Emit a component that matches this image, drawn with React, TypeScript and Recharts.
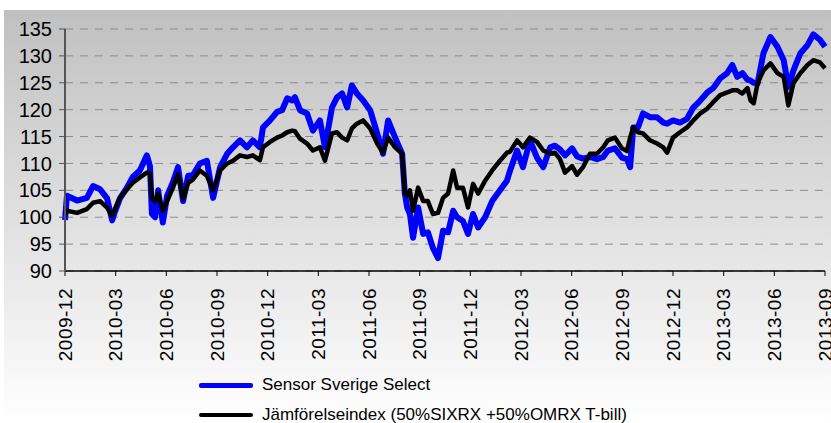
import { LineChart, Line, XAxis, YAxis, CartesianGrid } from "recharts";

// x position in weeks from 2009-12
const weeks = [
  0, 0.5, 3.1, 5.6, 7.2, 9.0, 10.8, 12.1, 12.8, 14.1, 15.9, 17.4, 19.2, 21.0, 21.8, 22.3,
  23.1, 23.9, 25.1, 26.2, 27.7, 29.0, 30.3, 31.6, 32.8, 34.6, 36.4, 38.0, 39.8, 41.6, 43.1,
  44.9, 46.7, 48.2, 50.0, 50.8, 52.6, 54.4, 55.7, 57.0, 58.3, 59.0, 60.3, 62.1, 63.6, 65.4,
  66.7, 68.5, 69.8, 71.1, 72.4, 73.6, 74.9, 76.5, 78.3, 80.1, 81.6, 82.9, 84.7, 86.5, 87.2,
  87.8, 88.5, 89.3, 90.6, 91.9, 93.1, 94.4, 95.7, 97.0, 98.3, 99.6, 100.6, 102.1, 103.4,
  104.7, 106.0, 107.8, 109.6, 111.6, 113.4, 114.2, 116.0, 117.5, 119.3, 121.1, 122.7, 124.5,
  125.7, 127.0, 128.3, 130.1, 131.4, 132.9, 134.7, 136.5, 138.1, 139.3, 141.1, 142.9, 144.2,
  145.0, 145.8, 147.0, 148.3, 150.1, 151.9, 153.5, 154.5, 156.0, 157.8, 159.6, 161.2, 163.0,
  164.8, 166.3, 168.1, 169.9, 171.2, 172.5, 173.8, 175.1, 175.9, 176.7, 177.7, 179.2, 181.0,
  182.8, 184.4, 185.6, 186.9, 188.7, 190.5, 192.0, 193.7, 195.0,
];

const sensor = [
  99.5, 104, 103.1, 103.6, 105.8, 105.2, 103.5, 99.4, 101, 103.5, 105.5, 107.5, 108.7, 111.5, 109.5, 100.6,
  100, 105, 99, 104, 106.5, 109.3, 103, 107.7, 107.8, 110, 110.5, 103.6, 109.3, 111.8, 113,
  114.3, 113, 114.3, 113, 116.7, 118, 119.6, 119.9, 122.1, 121.7, 122.3, 119.9, 119.3, 116.1, 118,
  113, 120.4, 122.3, 123, 120.4, 124.5, 123, 121.7, 119.9, 115.6, 111.8, 118, 114.8, 111.8, 104.4,
  101.8, 100.6, 96.2, 101.8, 96.9, 97.2, 94.3, 92.4, 97.5, 97.2, 101.2, 100, 99.3, 96.9,
  100.6, 98.1, 100, 103, 105, 106.8, 108.7, 112.4, 109.3, 114.3, 111.1, 109.3, 113,
  113.3, 112.6, 111.5, 112.8, 111.3, 110.9, 111.2, 110.8, 111.2, 112.4, 112.8, 111.1, 110.8,
  109.3, 116.7, 116.7, 119.3, 118.6, 118.6, 117.6, 117.4, 118, 117.6, 118.3, 120.4, 121.7,
  123.2, 124, 125.8, 126.8, 128.3, 126.1, 126.8, 125.6, 125.4, 125, 124.9, 130.5, 133.5,
  131.7, 129.2, 124.2, 127.3, 130.5, 132, 134, 133, 131.7,
];

const benchmark = [
  100.5, 101.2, 100.8, 101.5, 102.7, 103, 101.8, 100.2, 101.5, 103.6, 105.2, 106.4, 107.4, 108.3, 108.2, 103.6,
  103, 104.4, 101.2, 103, 105.5, 108, 103.4, 106.4, 107, 108.7, 107.7, 105, 108.7, 110, 110.5,
  111.5, 111.2, 111.5, 110.6, 113, 114, 114.8, 115.2, 115.8, 116.1, 116, 114.6, 113.7, 112.4, 113,
  110.5, 115.6, 115.8, 114.8, 114.3, 116.5, 117.4, 118, 116.5, 113.7, 112, 114.8, 113, 111.8, 104.4,
  104, 105, 101.2, 105.5, 103, 103, 100.6, 100.8, 103.6, 104.4, 108.7, 105.5, 105.5, 101.8,
  106.2, 104.4, 106.8, 108.7, 110.5, 112, 112.2, 114.3, 113, 114.8, 114, 112.4, 111.8,
  112, 110.8, 108.3, 109.5, 107.9, 109.3, 111.8, 111.8, 113, 114.3, 114.8, 112.8, 112.3,
  114.8, 116.7, 115.8, 115.6, 114.3, 113.7, 113, 112, 114.8, 115.8, 116.7, 118, 119.3,
  120.2, 121.4, 122.7, 123.2, 123.6, 123.6, 123, 124, 121.7, 121.2, 124.9, 127.3, 128.6,
  126.8, 126.1, 120.8, 124.9, 126.8, 128.3, 129.2, 128.8, 127.7,
];

const tickWeeks = [0, 13, 26, 39, 52, 65, 78, 91, 104, 117, 130, 143, 156, 169, 182, 195];
const tickLabels = [
  "2009-12", "2010-03", "2010-06", "2010-09", "2010-12", "2011-03", "2011-06", "2011-09",
  "2011-12", "2012-03", "2012-06", "2012-09", "2012-12", "2013-03", "2013-06", "2013-09",
];
const yTicks = [90, 95, 100, 105, 110, 115, 120, 125, 130, 135];

const data = weeks.map((w, i) => ({ w, sensor: sensor[i], benchmark: benchmark[i] }));

const font = "'Liberation Sans', Arial, sans-serif";

function XTick({ x, y, payload }: any) {
  const idx = tickWeeks.indexOf(payload.value);
  return (
    <text
      x={0}
      y={0}
      transform={`translate(${x},${y + 10}) rotate(-90)`}
      textAnchor="end"
      dominantBaseline="central"
      fontSize={19}
      fontFamily={font}
      fill="#000"
      letterSpacing={0.5}
    >
      {tickLabels[idx]}
    </text>
  );
}

export default function App() {
  return (
    <div style={{ position: "absolute", left: 0, top: 0, width: 831, height: 423, background: "#fff", overflow: "hidden" }}>
      <div
        style={{
          position: "absolute",
          left: 4,
          top: 10,
          width: 827,
          height: 413,
          background: "linear-gradient(to bottom, #c0c0c0, #ffffff)",
        }}
      >
        <LineChart width={827} height={413} data={data} margin={{ top: 19, right: 6, left: 0, bottom: 52 }}>
          <CartesianGrid vertical={false} stroke="#8c8c8c" strokeDasharray="8 7" />
          <XAxis
            dataKey="w"
            type="number"
            domain={[0, 195]}
            ticks={tickWeeks}
            height={100}
            tick={<XTick />}
            tickSize={5}
            axisLine={{ stroke: "#000", strokeWidth: 1.5 }}
            tickLine={{ stroke: "#000" }}
            interval={0}
          />
          <YAxis
            domain={[90, 135]}
            ticks={yTicks}
            width={61}
            tickSize={6}
            tickMargin={7}
            interval={0}
            tick={{ fontSize: 20, fill: "#000", fontFamily: font }}
            axisLine={{ stroke: "#555", strokeWidth: 2 }}
            tickLine={{ stroke: "#555" }}
          />
          <Line
            dataKey="sensor"
            type="linear"
            stroke="#0000ff"
            strokeWidth={6}
            strokeLinejoin="round"
            dot={false}
            isAnimationActive={false}
          />
          <Line
            dataKey="benchmark"
            type="linear"
            stroke="#000000"
            strokeWidth={4.5}
            strokeLinejoin="round"
            dot={false}
            isAnimationActive={false}
          />
        </LineChart>
      </div>
      <div style={{ position: "absolute", left: 199, top: 383, width: 54, height: 5, borderRadius: 2, background: "#0000ff" }} />
      <div style={{ position: "absolute", left: 262, top: 374, fontFamily: font, fontSize: 17, lineHeight: "22px", color: "#000" }}>
        Sensor Sverige Select
      </div>
      <div style={{ position: "absolute", left: 199, top: 413, width: 54, height: 4, borderRadius: 2, background: "#000" }} />
      <div style={{ position: "absolute", left: 262, top: 404, fontFamily: font, fontSize: 17, lineHeight: "22px", color: "#000", whiteSpace: "nowrap" }}>
        Jämförelseindex (50%SIXRX +50%OMRX T-bill)
      </div>
    </div>
  );
}
